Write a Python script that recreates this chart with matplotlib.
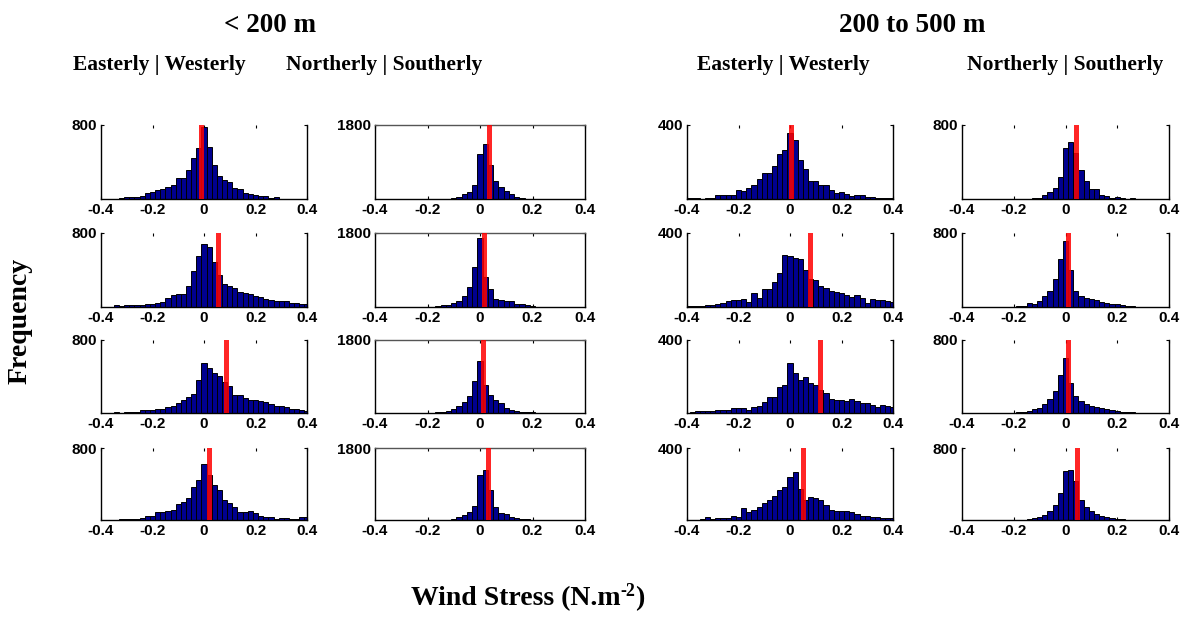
import numpy as np
import matplotlib.pyplot as plt

plt.rcParams['font.family'] = ['Liberation Sans', 'DejaVu Sans']

# bin centres of the histograms (wind stress, N m-2)
centers = np.round(np.arange(-0.4, 0.401, 0.02), 2)

# counts per bin, < 200 m, easterly | westerly (rows 1-4)
lt200_ew_1 = [0, 0, 0, 2, 10, 20, 20, 20, 36, 65, 72, 100, 111, 129, 154, 226, 226, 315, 441, 548,
              780, 566, 369, 254, 201, 179, 118, 107, 65, 57, 47, 36, 29, 11, 20, 5, 0, 0, 0, 0, 0]
lt200_ew_2 = [0, 0, 5, 18, 10, 18, 18, 18, 22, 29, 36, 43, 54, 100, 126, 144, 144, 223, 389, 547,
              677, 648, 486, 342, 245, 223, 209, 162, 151, 137, 115, 108, 90, 72, 61, 61, 61, 47, 47, 36, 36]
lt200_ew_3 = [0, 0, 5, 11, 3, 7, 15, 15, 29, 29, 36, 44, 44, 62, 80, 109, 145, 175, 211, 364,
              553, 491, 436, 407, 345, 291, 200, 200, 164, 145, 145, 135, 116, 102, 80, 80, 65, 44, 44, 29, 18]
lt200_ew_4 = [0, 0, 0, 0, 11, 11, 11, 11, 23, 49, 49, 86, 86, 98, 113, 173, 199, 248, 368, 443,
              620, 500, 387, 330, 218, 188, 150, 86, 86, 98, 75, 49, 38, 38, 11, 23, 23, 11, 11, 30, 30]

# < 200 m, northerly | southerly
lt200_ns_1 = [0, 0, 0, 0, 0, 0, 0, 0, 0, 0, 0, 0, 0, 0, 8, 20, 50, 110, 180, 330,
              1100, 1350, 820, 450, 300, 205, 120, 60, 25, 10, 4, 0, 0, 0, 0, 0, 0, 0, 0, 0, 0]
lt200_ns_2 = [0, 0, 0, 0, 0, 0, 0, 0, 0, 0, 0, 10, 24, 40, 40, 97, 146, 260, 487, 974,
              1687, 730, 446, 203, 162, 146, 146, 81, 81, 40, 24, 10, 0, 0, 0, 0, 0, 0, 0, 0, 0]
lt200_ns_3 = [0, 0, 0, 0, 0, 0, 0, 0, 0, 0, 5, 10, 15, 25, 57, 98, 180, 262, 425, 793,
              1292, 695, 450, 311, 245, 123, 82, 57, 25, 25, 20, 0, 0, 0, 0, 0, 0, 0, 0, 0, 0]
lt200_ns_4 = [0, 0, 0, 0, 0, 0, 0, 0, 0, 0, 0, 0, 0, 0, 10, 25, 66, 124, 206, 347,
              1115, 1239, 760, 330, 182, 140, 82, 41, 25, 15, 5, 0, 0, 0, 0, 0, 0, 0, 0, 0, 0]

# 200 to 500 m, easterly | westerly
mid_ew_1 = [5, 5, 3, 2, 3, 5, 22, 22, 22, 22, 51, 45, 60, 73, 109, 140, 140, 176, 245, 264,
            358, 318, 209, 164, 100, 95, 73, 73, 49, 31, 36, 27, 18, 22, 22, 13, 13, 5, 5, 5, 5]
mid_ew_2 = [5, 5, 5, 5, 11, 11, 18, 24, 33, 36, 36, 45, 29, 73, 51, 96, 96, 133, 182, 282,
            273, 265, 260, 200, 151, 145, 115, 102, 87, 82, 73, 65, 55, 65, 47, 24, 42, 36, 36, 33, 29]
mid_ew_3 = [2, 4, 9, 9, 9, 9, 15, 15, 15, 27, 27, 27, 18, 33, 40, 58, 87, 87, 145, 155,
            276, 218, 182, 200, 167, 155, 127, 109, 76, 73, 73, 67, 76, 64, 55, 55, 45, 33, 45, 40, 33]
mid_ew_4 = [0, 2, 2, 6, 19, 6, 11, 11, 11, 24, 19, 68, 43, 56, 75, 94, 113, 131, 169, 184,
            240, 268, 175, 113, 128, 124, 109, 81, 56, 49, 49, 49, 43, 34, 24, 21, 15, 15, 11, 11, 11]

# 200 to 500 m, northerly | southerly
mid_ns_1 = [0, 0, 0, 0, 0, 0, 0, 0, 0, 0, 0, 0, 0, 4, 11, 11, 47, 73, 120, 236,
            556, 618, 498, 309, 200, 109, 109, 47, 36, 11, 25, 7, 0, 7, 0, 0, 0, 0, 0, 0, 0]
mid_ns_2 = [0, 0, 0, 0, 0, 0, 0, 0, 0, 0, 4, 11, 11, 47, 36, 65, 120, 175, 302, 520,
            713, 400, 175, 120, 95, 84, 73, 58, 47, 29, 29, 20, 11, 11, 4, 0, 0, 0, 0, 0, 0]
mid_ns_3 = [0, 0, 0, 0, 0, 0, 0, 0, 0, 0, 4, 8, 12, 25, 40, 60, 95, 150, 240, 420,
            600, 330, 190, 130, 100, 80, 70, 55, 40, 30, 25, 15, 10, 6, 4, 0, 0, 0, 0, 0, 0]
mid_ns_4 = [0, 0, 0, 0, 0, 0, 0, 0, 0, 0, 0, 0, 5, 10, 20, 35, 60, 100, 170, 300,
            540, 560, 430, 220, 140, 100, 70, 50, 30, 20, 12, 6, 3, 0, 0, 0, 0, 0, 0, 0, 0]

# mean wind stress (red line) per panel, rows 1-4
mean_lt200_ew = [-0.01, 0.055, 0.086, 0.021]
mean_lt200_ns = [0.034, 0.016, 0.01, 0.032]
mean_mid_ew = [0.005, 0.076, 0.117, 0.049]
mean_mid_ns = [0.041, 0.011, 0.01, 0.044]

ymax_cols = [800, 1800, 400, 800]
xtick_vals = [-0.4, -0.2, 0, 0.2, 0.4]
xtick_labels = ['-0.4', '-0.2', '0', '0.2', '0.4']

columns = [
    ([lt200_ew_1, lt200_ew_2, lt200_ew_3, lt200_ew_4], mean_lt200_ew),
    ([lt200_ns_1, lt200_ns_2, lt200_ns_3, lt200_ns_4], mean_lt200_ns),
    ([mid_ew_1, mid_ew_2, mid_ew_3, mid_ew_4], mean_mid_ew),
    ([mid_ns_1, mid_ns_2, mid_ns_3, mid_ns_4], mean_mid_ns),
]

W, H = 1197, 619
fig = plt.figure(figsize=(W / 100, H / 100), dpi=100)

# panel boxes in pixels
col_px = [(101, 307), (375, 585), (687, 893), (962, 1169)]
row_px = [(125, 199), (233, 307), (340, 413), (448, 520)]

for c, (series, means) in enumerate(columns):
    l, r = col_px[c]
    for i, (t, b) in enumerate(row_px):
        ax = fig.add_axes([l / W, 1 - b / H, (r - l) / W, (b - t) / H])
        ax.bar(centers, series[i], width=0.02, color='#00008f',
               edgecolor='black', linewidth=0.7, zorder=2)
        ax.axvline(means[i], color='red', linewidth=3.6, alpha=0.85, zorder=3)
        ax.set_xlim(-0.4, 0.4)
        ax.set_ylim(0, ymax_cols[c])
        ax.set_xticks(xtick_vals)
        ax.set_xticklabels(xtick_labels)
        ax.set_yticks([ymax_cols[c]])
        ax.tick_params(direction='in', length=2, width=0.8, top=True, right=True,
                       labelsize=11, pad=3)
        for lab in ax.get_xticklabels() + ax.get_yticklabels():
            lab.set_fontweight('bold')
        for s in ax.spines.values():
            s.set_linewidth(1.0)
        if c == 1:
            ax.spines['top'].set_color('#555555')
        else:
            ax.spines['top'].set_visible(False)

serif = 'Liberation Serif'
fig.text(270 / W, 1 - 25 / H, '< 200 m', ha='center', va='center',
         fontsize=19.5, fontweight='bold', family=serif)
fig.text(912 / W, 1 - 25 / H, '200 to 500 m', ha='center', va='center',
         fontsize=19.5, fontweight='bold', family=serif)
for x, s in [(159, 'Easterly | Westerly'), (384, 'Northerly | Southerly'),
             (783, 'Easterly | Westerly'), (1065, 'Northerly | Southerly')]:
    fig.text(x / W, 1 - 65 / H, s, ha='center', va='center',
             fontsize=15.5, fontweight='bold', family=serif)

fig.text(20 / W, 1 - 321 / H, 'Frequency', rotation=90, ha='center', va='center',
         fontsize=20, fontweight='bold', family=serif)

# x label with a small hyphenated superscript, laid out piece by piece
renderer = fig.canvas.get_renderer()
parts = [('Wind Stress (N.m', 20, 0), ('-2', 13, 9), (')', 20, 0)]
widths = []
for s, fs, dy in parts:
    t = fig.text(0, 0, s, fontsize=fs, fontweight='bold', family=serif)
    widths.append(t.get_window_extent(renderer).width)
    t.remove()
x0 = 528 - sum(widths) / 2
for (s, fs, dy), w in zip(parts, widths):
    fig.text(x0 / W, (H - 605 + dy) / H, s, ha='left', va='baseline',
             fontsize=fs, fontweight='bold', family=serif)
    x0 += w

fig.savefig('out.png', dpi=100)
